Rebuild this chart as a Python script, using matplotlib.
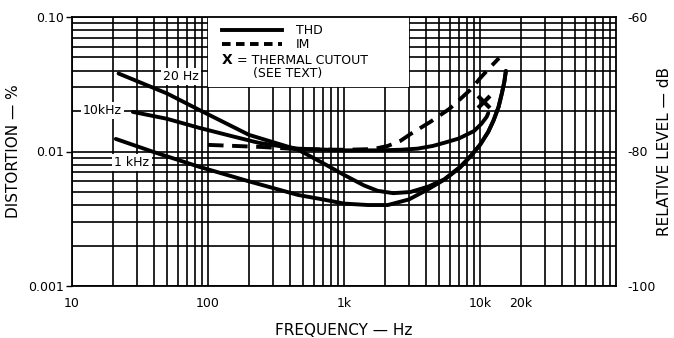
import matplotlib
matplotlib.use("Agg")
import matplotlib.pyplot as plt
from matplotlib.patches import Rectangle
from matplotlib.lines import Line2D
from matplotlib.ticker import FixedLocator, FixedFormatter, NullFormatter, LogLocator

plt.rcParams['font.family'] = ['DejaVu Sans']

# ---- data ----
thd_20hz_f = [22, 50, 86, 200, 460, 700, 1000, 1400, 1770, 2300, 3080, 4200, 5450,
              7150, 8500, 10000, 11500, 12600, 13700, 14500, 15100, 15500]
thd_20hz_v = [0.038, 0.027, 0.0204, 0.0133, 0.0103, 0.0082, 0.0067, 0.0056, 0.0051,
              0.0049, 0.0050, 0.0055, 0.0062, 0.0077, 0.0092, 0.0112, 0.0140, 0.0171,
              0.0215, 0.0272, 0.033, 0.0397]

thd_10khz_f = [28, 50, 86, 150, 236, 350, 460, 1000, 1770, 2600, 3470, 4500, 5450,
               7000, 9040, 10200, 11200, 11500]
thd_10khz_v = [0.0197, 0.0175, 0.0150, 0.0130, 0.0116, 0.0109, 0.0105, 0.0102, 0.0102,
               0.0103, 0.0105, 0.0110, 0.0116, 0.0125, 0.0142, 0.0160, 0.0181, 0.0193]

thd_1khz_f = [21, 40, 86, 200, 460, 700, 1000, 1500, 2100, 3000, 4100, 5500, 7150,
              8500, 10000, 11500, 12600, 13700, 14500, 15100, 15500]
thd_1khz_v = [0.0124, 0.0099, 0.0077, 0.0060, 0.00475, 0.0044, 0.0041, 0.0040, 0.0040,
              0.0044, 0.0052, 0.0062, 0.0076, 0.0092, 0.0112, 0.0140, 0.0171, 0.0215,
              0.0272, 0.033, 0.0397]

im_f = [100, 250, 460, 1000, 1500, 1770, 2100, 2600, 3090, 4310, 5940, 7300, 8750,
        10000, 11800, 13800]
im_v = [0.0112, 0.0108, 0.0104, 0.0103, 0.0104, 0.0106, 0.0110, 0.0120, 0.0135, 0.0166,
        0.0207, 0.0250, 0.0296, 0.0350, 0.0420, 0.0495]

cutout_f = [10700]
cutout_v = [0.0233]

x_ticks = [10, 100, 1000, 10000, 20000]
x_labels = ['10', '100', '1k', '10k', '20k']
y_ticks = [0.001, 0.01, 0.1]
y_labels = ['0.001', '0.01', '0.10']
db_ticks = [-100, -80, -60]
db_labels = ['-100', '-80', '-60']

# ---- figure ----
fig = plt.figure(figsize=(6.74, 3.38), dpi=100)
ax = fig.add_axes([72/674, 1-286/338, (616-72)/674, (286-17)/338])
ax.set_xscale('log')
ax.set_yscale('log')
ax.set_xlim(10, 100000)
ax.set_ylim(0.001, 0.1)

ax.xaxis.set_major_locator(FixedLocator(x_ticks))
ax.xaxis.set_major_formatter(FixedFormatter(x_labels))
ax.xaxis.set_minor_locator(LogLocator(base=10, subs=range(2, 10), numticks=20))
ax.xaxis.set_minor_formatter(NullFormatter())
ax.yaxis.set_major_locator(FixedLocator(y_ticks))
ax.yaxis.set_major_formatter(FixedFormatter(y_labels))
ax.yaxis.set_minor_locator(LogLocator(base=10, subs=range(2, 10), numticks=20))
ax.yaxis.set_minor_formatter(NullFormatter())

ax.grid(True, which='both', color='black', linewidth=1.2)
ax.set_axisbelow(True)
for s in ax.spines.values():
    s.set_linewidth(1.3)

ax.tick_params(axis='x', which='both', length=0, pad=8, labelsize=9)
ax.tick_params(axis='y', which='major', length=4, width=1, pad=2, labelsize=9)
ax.tick_params(axis='y', which='minor', length=0)

# white legend area covering grid
ax.add_patch(Rectangle((100, 0.03), 3000-100, 0.1-0.03, facecolor='white',
                       edgecolor='none', zorder=2))

lw = 2.8
ax.plot(thd_20hz_f, thd_20hz_v, color='black', lw=lw, solid_capstyle='round',
        solid_joinstyle='round', zorder=4)
ax.plot(thd_10khz_f, thd_10khz_v, color='black', lw=lw, solid_capstyle='round',
        solid_joinstyle='round', zorder=4)
ax.plot(thd_1khz_f, thd_1khz_v, color='black', lw=lw, solid_capstyle='round',
        solid_joinstyle='round', zorder=4)
ax.plot(im_f, im_v, color='black', lw=lw, linestyle=(0, (4, 2.2)), zorder=4)
ax.plot(cutout_f, cutout_v, marker='x', color='black', markersize=9, mew=3,
        linestyle='none', zorder=5)

# curve labels
bb = dict(facecolor='white', edgecolor='none', pad=1.5)
ax.text(47, 0.036, '20 Hz', fontsize=9, ha='left', va='center', bbox=bb, zorder=3)
ax.text(12.0, 0.0202, '10kHz', fontsize=9, ha='left', va='center', bbox=bb, zorder=3)
ax.text(20.5, 0.0083, '1 kHz', fontsize=9, ha='left', va='center', bbox=bb, zorder=3)

# legend (drawn manually inside the white area)
tr = ax.transAxes
def ax_x(px):
    return (px - 72) / (616 - 72)
def ax_y(py):
    return (286 - py) / (286 - 17)
ax.add_line(Line2D([ax_x(222), ax_x(282)], [ax_y(30), ax_y(30)], transform=tr,
                   color='black', lw=2.8, zorder=6))
ax.add_line(Line2D([ax_x(222), ax_x(282)], [ax_y(44), ax_y(44)], transform=tr,
                   color='black', lw=2.8, linestyle=(0, (2.2, 1.4)), zorder=6))
ax.text(ax_x(296), ax_y(30), 'THD', transform=tr, fontsize=9, va='center', zorder=6)
ax.text(ax_x(296), ax_y(44), 'IM', transform=tr, fontsize=9, va='center', zorder=6)
ax.text(ax_x(222), ax_y(60), 'X', transform=tr, fontsize=10, fontweight='bold',
        va='center', zorder=6)
ax.text(ax_x(237), ax_y(60), '= THERMAL CUTOUT', transform=tr, fontsize=9,
        va='center', zorder=6)
ax.text(ax_x(253), ax_y(74), '(SEE TEXT)', transform=tr, fontsize=9,
        va='center', zorder=6)

ax.set_xlabel('FREQUENCY — Hz', fontsize=11, labelpad=9)
ax.set_ylabel('DISTORTION — %', fontsize=11, labelpad=5)

# right dB axis
ax2 = ax.twinx()
ax2.set_ylim(-100, -60)
ax2.yaxis.set_major_locator(FixedLocator(db_ticks))
ax2.yaxis.set_major_formatter(FixedFormatter(db_labels))
ax2.tick_params(axis='y', length=0, pad=8, labelsize=9)
for s in ax2.spines.values():
    s.set_visible(False)
ax2.set_ylabel('RELATIVE LEVEL — dB', fontsize=11, labelpad=1)

fig.savefig('out.png', dpi=100, facecolor='white')
